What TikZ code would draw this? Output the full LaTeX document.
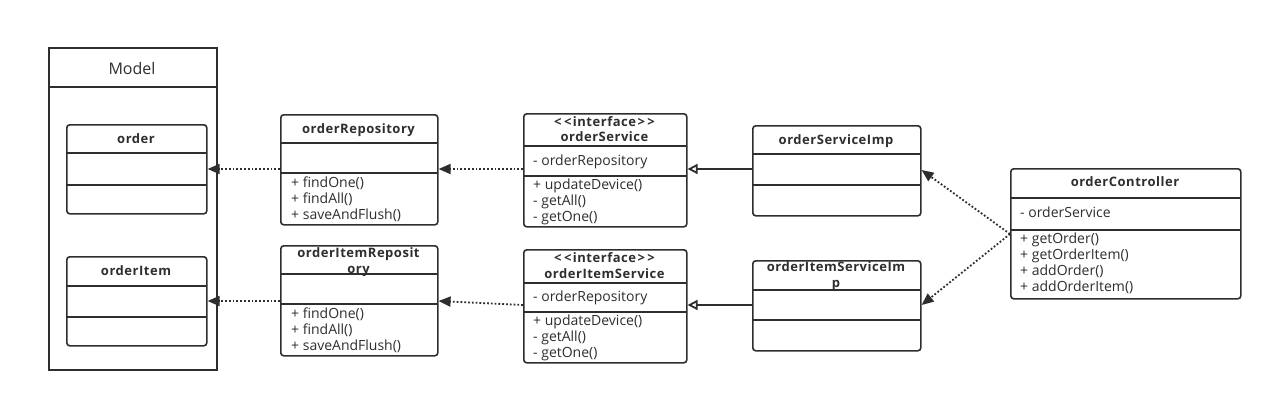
\documentclass[tikz,border=0pt]{standalone}
\usepackage{fontspec}
\setmainfont{Open Sans}
\usetikzlibrary{arrows.meta}
\definecolor{ln}{HTML}{2E2E2E}
\newcommand{\ifc}{<\hspace{2.5pt}<\hspace{1.5pt}interface\hspace{1.5pt}>\hspace{2.5pt}>}
\begin{document}
\begin{tikzpicture}[x=1pt,y=-1pt,
  box/.style={draw=ln, line width=1.6pt, rounded corners=3pt, inner sep=0pt, anchor=north west, fill=white},
  modelbox/.style={draw=ln, line width=1.6pt, inner sep=0pt, anchor=north west},
  div/.style={draw=ln, line width=1.6pt},
  ttl/.style={font=\fontsize{13}{15}\selectfont\bfseries\addfontfeature{LetterSpace=4}, text=ln, inner sep=0pt, anchor=base},
  txt/.style={font=\fontsize{14}{16}\selectfont, text=ln, inner sep=0pt, anchor=base west},
  dep/.style={draw=ln, line width=1.8pt, dotted, -{Triangle[length=12pt,width=10pt]}},
  real/.style={draw=ln, line width=1.8pt, -{Triangle[open,length=10pt,width=10pt]}}
]
\useasboundingbox (0,0) rectangle (1272,402);
% Model package
\node[modelbox, minimum width=168pt, minimum height=322pt] (model) at (48,47) {};
\draw[div] (48,87) -- (216,87);
\node[font=\fontsize{16}{18}\selectfont, text=ln, inner sep=0pt, anchor=base] (modelt) at (132,74) {Model};
% order
\node[box, minimum width=140pt, minimum height=89pt] (order) at (66,124) {};
\draw[div] (66,153) -- (206,153);
\draw[div] (66,185) -- (206,185);
\node[ttl] (ordert) at (136,143.5) {order};
% orderItem
\node[box, minimum width=140pt, minimum height=89pt] (item) at (66,256) {};
\draw[div] (66,286) -- (206,286);
\draw[div] (66,317) -- (206,317);
\node[ttl] (itemt) at (136,275) {orderItem};
% orderRepository
\node[box, minimum width=157pt, minimum height=110pt] (orep) at (280,114) {};
\draw[div] (280,143) -- (437,143);
\draw[div] (280,173) -- (437,173);
\node[ttl] (orept) at (358.5,133) {orderRepository};
\node[txt] (orep1) at (291,187) {+ findOne()};
\node[txt] (orep2) at (291,203) {+ findAll()};
\node[txt] (orep3) at (291,219) {+ saveAndFlush()};
% orderItemRepository
\node[box, minimum width=157pt, minimum height=110pt] (irep) at (280,245) {};
\node[ttl] (irept1) at (358.5,257.5) {orderItemReposit};
\node[ttl] (irept2) at (358.5,273.5) {ory};
\draw[div] (280,274) -- (437,274);
\draw[div] (280,304) -- (437,304);
\node[txt] (irep1) at (291,318) {+ findOne()};
\node[txt] (irep2) at (291,334) {+ findAll()};
\node[txt] (irep3) at (291,350) {+ saveAndFlush()};
% orderService
\node[box, minimum width=163pt, minimum height=113pt] (osvc) at (523,113) {};
\draw[div] (523,146) -- (686,146);
\draw[div] (523,176) -- (686,176);
\node[ttl] (osvct1) at (604.5,126) {\ifc};
\node[ttl] (osvct2) at (604.5,141.5) {orderService};
\node[txt] (osvc0) at (533,165) {- orderRepository};
\node[txt] (osvc1) at (533,189) {+ updateDevice()};
\node[txt] (osvc2) at (533,205) {- getAll()};
\node[txt] (osvc3) at (533,221) {- getOne()};
% orderItemService
\node[box, minimum width=163pt, minimum height=113pt] (isvc) at (523,249) {};
\draw[div] (523,283) -- (686,283);
\draw[div] (523,312) -- (686,312);
\node[ttl] (isvct1) at (604.5,262) {\ifc};
\node[ttl] (isvct2) at (604.5,278) {orderItemService};
\node[txt] (isvc0) at (533,301) {- orderRepository};
\node[txt] (isvc1) at (533,325) {+ updateDevice()};
\node[txt] (isvc2) at (533,341) {- getAll()};
\node[txt] (isvc3) at (533,357) {- getOne()};
% orderServiceImp
\node[box, minimum width=168pt, minimum height=90pt] (oimp) at (752,125) {};
\draw[div] (752,154) -- (920,154);
\draw[div] (752,185) -- (920,185);
\node[ttl] (oimpt) at (836,144) {orderServiceImp};
% orderItemServiceImp
\node[box, minimum width=168pt, minimum height=90pt] (iimp) at (752,260) {};
\node[ttl] (iimpt1) at (836,271.5) {orderItemServiceIm};
\node[ttl] (iimpt2) at (836,287.5) {p};
\draw[div] (752,290) -- (920,290);
\draw[div] (752,320) -- (920,320);
% orderController
\node[box, minimum width=230pt, minimum height=130pt] (ctrl) at (1010,168) {};
\draw[div] (1010,198) -- (1240,198);
\draw[div] (1010,230) -- (1240,230);
\node[ttl] (ctrlt) at (1125,186.5) {orderController};
\node[txt] (ctrl0) at (1020,217) {- orderService};
\node[txt] (ctrl1) at (1020,243) {+ getOrder()};
\node[txt] (ctrl2) at (1020,259) {+ getOrderItem()};
\node[txt] (ctrl3) at (1020,275) {+ addOrder()};
\node[txt] (ctrl4) at (1020,291) {+ addOrderItem()};
% connectors
\draw[dep] (orep.west |- 0,169) -- (order.east |- 0,169);
\draw[dep] (irep.west |- 0,301) -- (item.east |- 0,301);
\draw[dep] (osvc.west |- 0,169) -- (orep.east |- 0,169);
\draw[dep] (isvc.west |- 0,305) -- (irep.east |- 0,301);
\draw[real] (oimp.west |- 0,169) -- (osvc.east |- 0,169);
\draw[real] (iimp.west |- 0,305) -- (isvc.east |- 0,305);
\draw[dep] (ctrl.west |- 0,234) -- (oimp.east |- 0,170);
\draw[dep] (ctrl.west |- 0,234) -- (iimp.east |- 0,305);
\end{tikzpicture}
\end{document}
